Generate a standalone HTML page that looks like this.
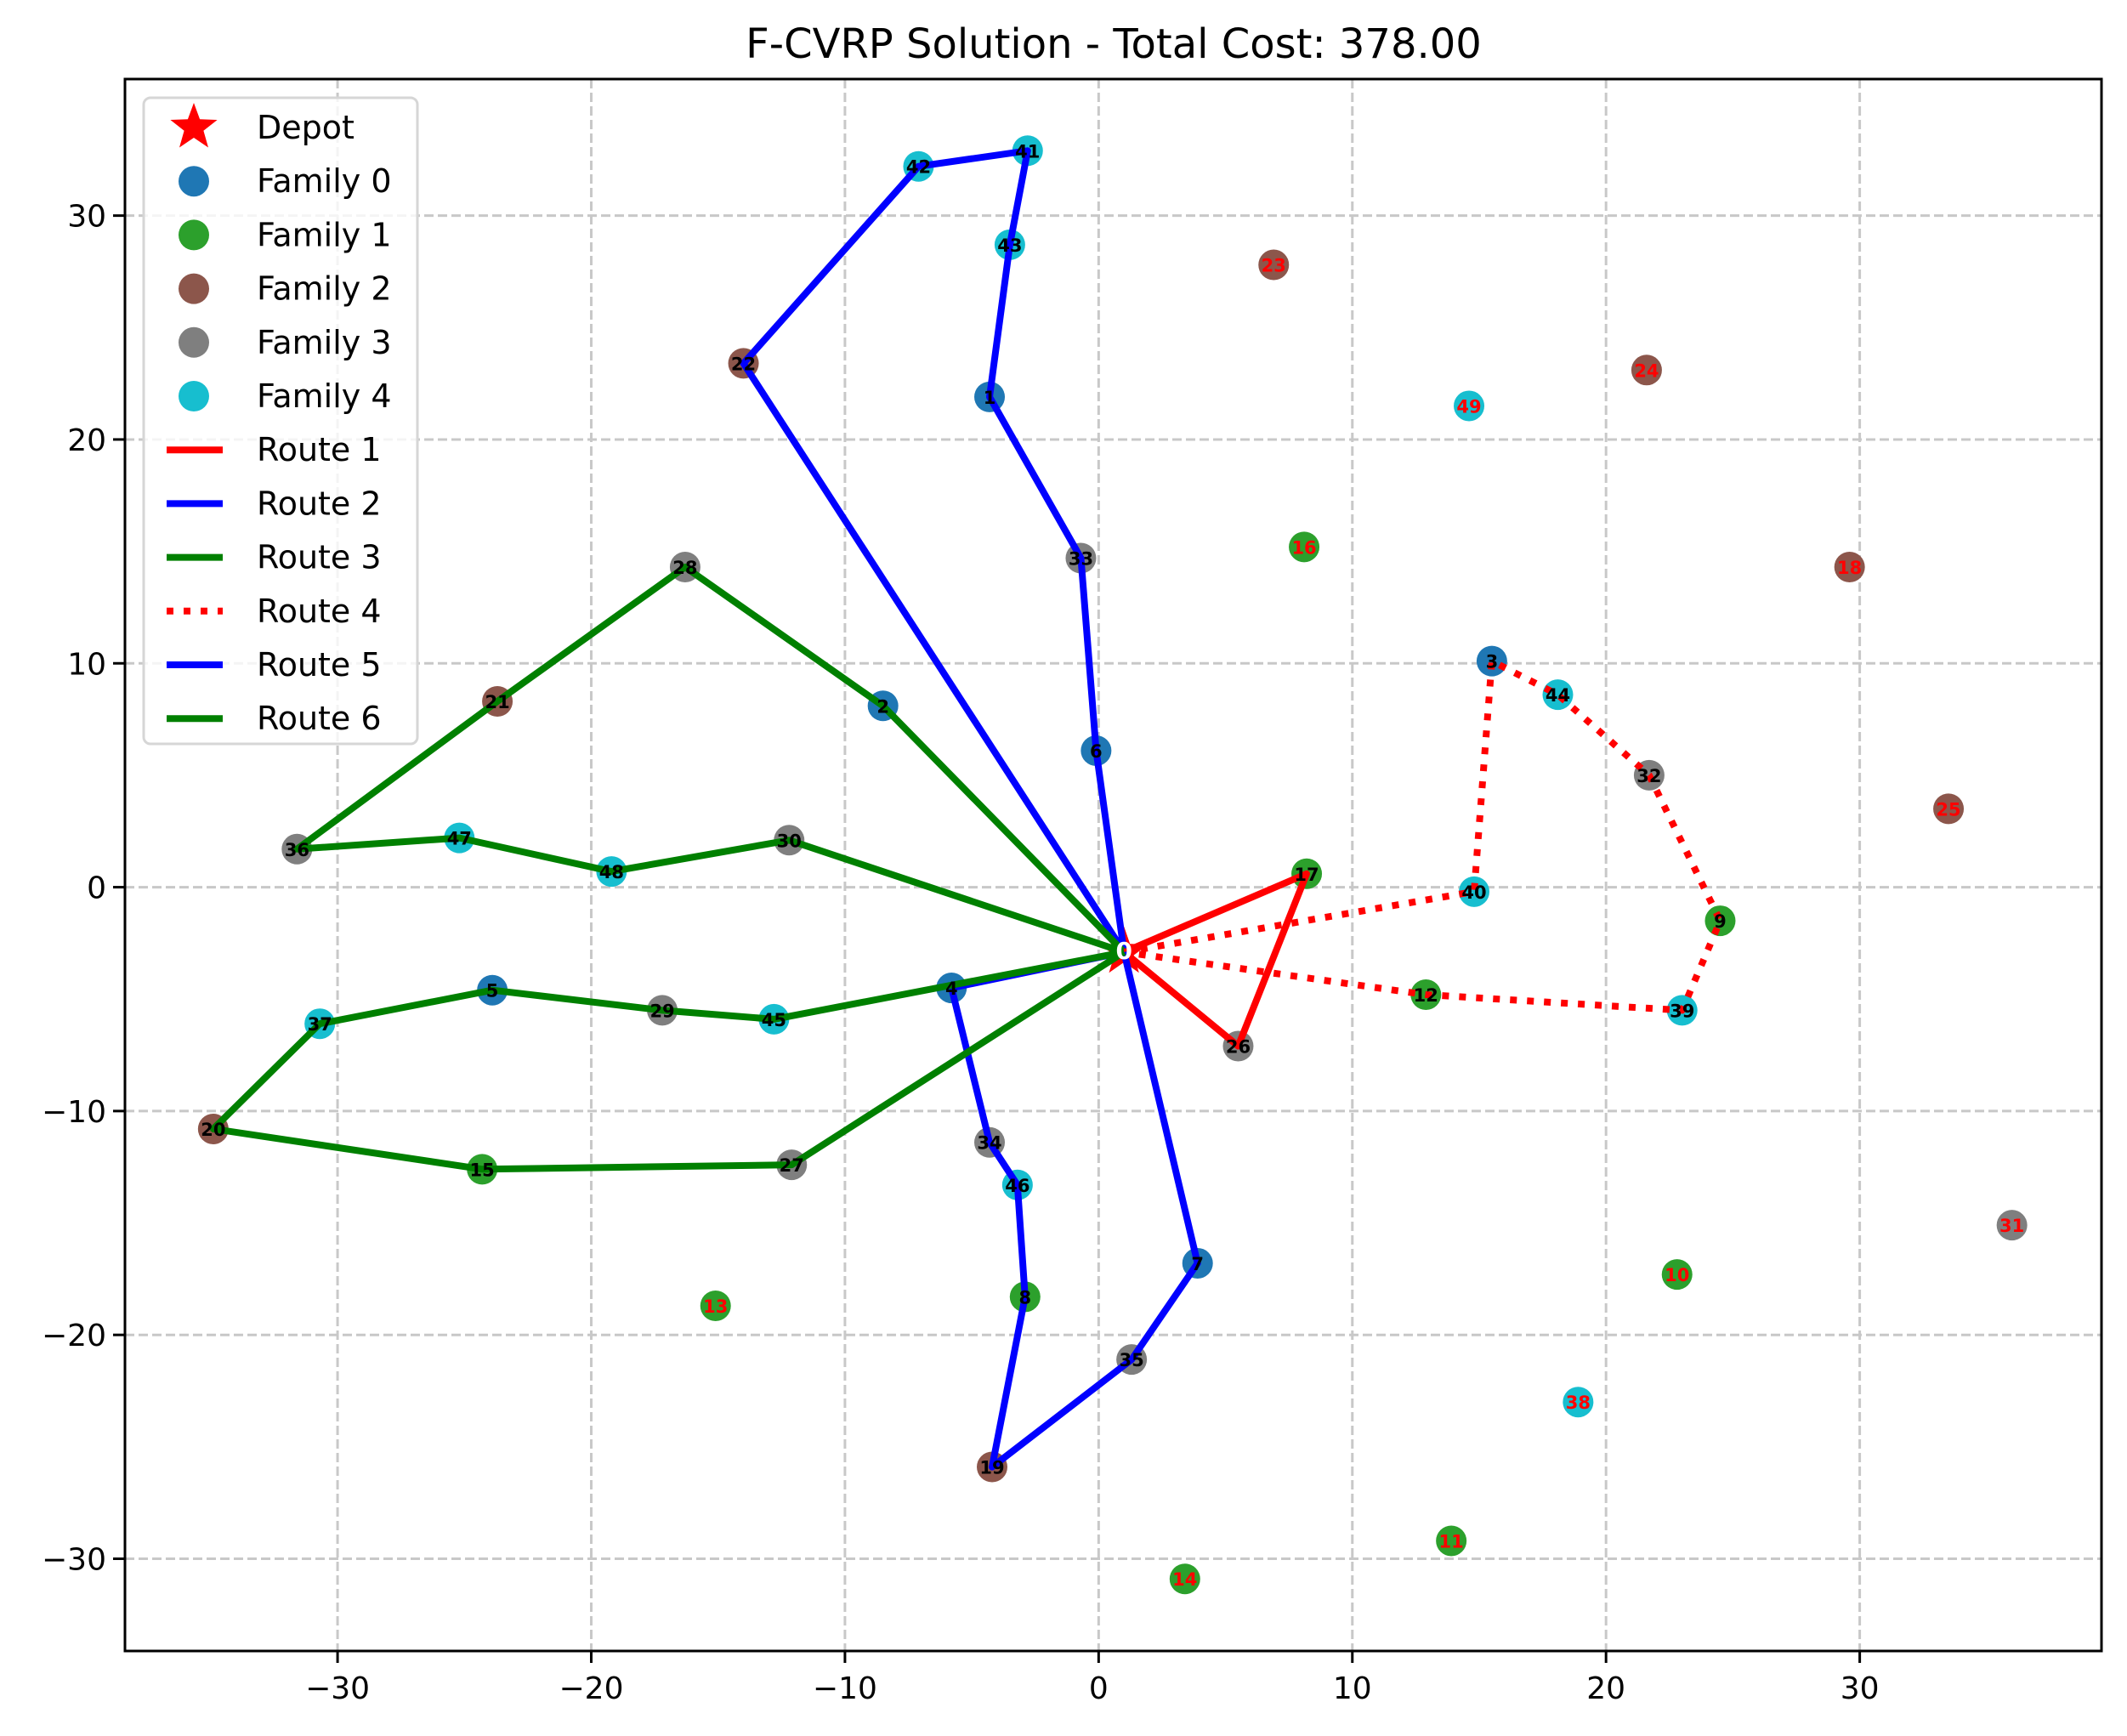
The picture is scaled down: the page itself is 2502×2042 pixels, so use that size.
<!DOCTYPE html>
<html><head><meta charset="utf-8"><style>
body{margin:0;background:#fff}
svg{display:block;font-family:"DejaVu Sans","Liberation Sans",sans-serif}
</style></head><body>
<svg id="chart" width="2502" height="2042" viewBox="0 0 2502 2042" xmlns="http://www.w3.org/2000/svg">
<rect width="2502" height="2042" fill="#fff"/>
<text x="1310" y="68" font-size="48" text-anchor="middle" fill="#000">F-CVRP Solution - Total Cost: 378.00</text>
<g id="grid"></g><g id="pts"></g><g id="routes"></g><g id="labels"></g><g id="axes"></g><g id="legend"></g>
</svg>
<script>
const nodeX=[1.0,-4.3,-8.5,15.5,-5.8,-23.9,-0.1,3.9,-2.9,24.5,22.8,13.9,12.9,-15.1,3.4,-24.3,8.1,8.2,29.6,-4.2,-34.9,-23.7,-14.0,6.9,21.6,33.5,5.5,-12.1,-16.3,-17.2,-12.2,36.0,21.7,-0.7,-4.3,1.3,-31.6,-30.7,18.9,23.0,14.8,-2.8,-7.1,-3.5,18.1,-12.8,-3.2,-25.2,-19.2,14.6];
const nodeY=[-2.9,21.9,8.1,10.1,-4.5,-4.6,6.1,-16.8,-18.3,-1.5,-17.3,-29.2,-4.8,-18.7,-30.9,-12.6,15.2,0.6,14.3,-25.9,-10.8,8.3,23.4,27.8,23.1,3.5,-7.1,-12.4,14.3,-5.5,2.1,-15.1,5.0,14.7,-11.4,-21.1,1.7,-6.1,-23.0,-5.5,-0.2,32.9,32.2,28.7,8.6,-5.9,-13.3,2.2,0.7,21.5];
const nodeFamily=[-1,0,0,0,0,0,0,0,1,1,1,1,1,1,1,1,1,1,2,2,2,2,2,2,2,2,3,3,3,3,3,3,3,3,3,3,3,4,4,4,4,4,4,4,4,4,4,4,4,4];
const unvisited=[10,11,13,14,16,18,23,24,25,31,38,49];
const route1=[0,17,26,0];
const route2=[0,6,33,1,43,41,42,22,0];
const route3=[0,2,28,21,36,47,48,30,0];
const route4=[0,40,3,44,32,9,39,12,0];
const route5=[0,4,34,46,8,19,35,7,0];
const route6=[0,27,15,20,37,5,29,45,0];
const xTicks=[-30,-20,-10,0,10,20,30];
const yTicks=[-30,-20,-10,0,10,20,30];

const famColors=['#1f77b4','#2ca02c','#8c564b','#7f7f7f','#17becf'];
const L=147,R=2472,T=93,B=1942;
const xMin=-38.38,xMax=39.53,yMin=-34.12,yMax=36.10;
const sx=v=>L+(v-xMin)/(xMax-xMin)*(R-L);
const sy=v=>B-(v-yMin)/(yMax-yMin)*(B-T);
const NS='http://www.w3.org/2000/svg';
function mk(tag,attrs,parent){const e=document.createElementNS(NS,tag);for(const k in attrs)e.setAttribute(k,attrs[k]);parent.appendChild(e);return e;}
const g=id=>document.getElementById(id);

xTicks.forEach(t=>{const l=mk('line',{x1:sx(t),x2:sx(t),y1:T,y2:B,stroke:'#c8c8c8','stroke-width':3,'stroke-dasharray':'11,5'},g('grid'));

});
yTicks.forEach(t=>{const l=mk('line',{x1:L,x2:R,y1:sy(t),y2:sy(t),stroke:'#c8c8c8','stroke-width':3,'stroke-dasharray':'11,5'},g('grid'));

});

for(let i=1;i<nodeX.length;i++){
  const c=mk('circle',{cx:sx(nodeX[i]),cy:sy(nodeY[i]),r:18,fill:famColors[nodeFamily[i]]},g('pts'));
  
  
}
function starPts(cx,cy,ro,ri){let p=[];for(let k=0;k<10;k++){const a=-Math.PI/2+k*Math.PI/5;const r=k%2?ri:ro;p.push((cx+r*Math.cos(a)).toFixed(1)+','+(cy+r*Math.sin(a)).toFixed(1));}return p.join(' ');}
const dep=mk('polygon',{points:starPts(sx(nodeX[0]),sy(nodeY[0]),30,12),fill:'#ff0000'},g('pts'));



const routes=[[route1,'#ff0000',false],[route2,'#0000ff',false],[route3,'#008000',false],[route4,'#ff0000',true],[route5,'#0000ff',false],[route6,'#008000',false]];
routes.forEach((r,ri)=>{
  const pts=r[0].map(i=>sx(nodeX[i]).toFixed(1)+','+sy(nodeY[i]).toFixed(1)).join(' ');
  const a={points:pts,fill:'none',stroke:r[1],'stroke-width':8,'stroke-linejoin':'round'};
  if(r[2]){a['stroke-dasharray']='8,12';}
  const p=mk('polyline',a,g('routes'));
  
  
});

for(let i=0;i<nodeX.length;i++){
  const col=i===0?'#ffffff':(unvisited.includes(i)?'#ff0000':'#000000');
  const t=mk('text',{x:sx(nodeX[i]),y:sy(nodeY[i])+8,'font-size':i===0?28:21,'font-weight':'bold','text-anchor':'middle',fill:col},g('labels'));
  t.textContent=String(i);
  
  
}

const fr=mk('rect',{x:L,y:T,width:R-L,height:B-T,fill:'none',stroke:'#000','stroke-width':3},g('axes'));


xTicks.forEach(t=>{
  mk('line',{x1:sx(t),x2:sx(t),y1:B,y2:B+14,stroke:'#000','stroke-width':3},g('axes'));
  const tx=mk('text',{x:sx(t),y:B+56,'font-size':36,'text-anchor':'middle',fill:'#000'},g('axes'));
  tx.textContent=(t<0?'\u2212'+(-t):String(t));
  
  
});
yTicks.forEach(t=>{
  mk('line',{x1:L-14,x2:L,y1:sy(t),y2:sy(t),stroke:'#000','stroke-width':3},g('axes'));
  const tx=mk('text',{x:L-22,y:sy(t)+13,'font-size':36,'text-anchor':'end',fill:'#000'},g('axes'));
  tx.textContent=(t<0?'\u2212'+(-t):String(t));
  
  
});

const lg=g('legend');
const box=mk('rect',{x:169,y:115,width:322,height:760,rx:8,fill:'#fff','fill-opacity':0.8,stroke:'#d6d6d6','stroke-width':3},lg);


const entries=[['Depot','star','#ff0000'],['Family 0','dot',famColors[0]],['Family 1','dot',famColors[1]],['Family 2','dot',famColors[2]],['Family 3','dot',famColors[3]],['Family 4','dot',famColors[4]],['Route 1','line','#ff0000'],['Route 2','line','#0000ff'],['Route 3','line','#008000'],['Route 4','dots','#ff0000'],['Route 5','line','#0000ff'],['Route 6','line','#008000']];
entries.forEach((e,k)=>{
  const y=150+k*63.2;
  if(e[1]==='star')mk('polygon',{points:starPts(228,y,29,12),fill:e[2]},lg);
  else if(e[1]==='dot')mk('circle',{cx:228,cy:y,r:18,fill:e[2]},lg);
  else{const a={x1:196,x2:262,y1:y,y2:y,stroke:e[2],'stroke-width':8};if(e[1]==='dots')a['stroke-dasharray']='8,12';mk('line',a,lg);}
  const t=mk('text',{x:302,y:y+13,'font-size':38,fill:'#000'},lg);
  t.textContent=e[0];
  
  
});
</script>
</body></html>
